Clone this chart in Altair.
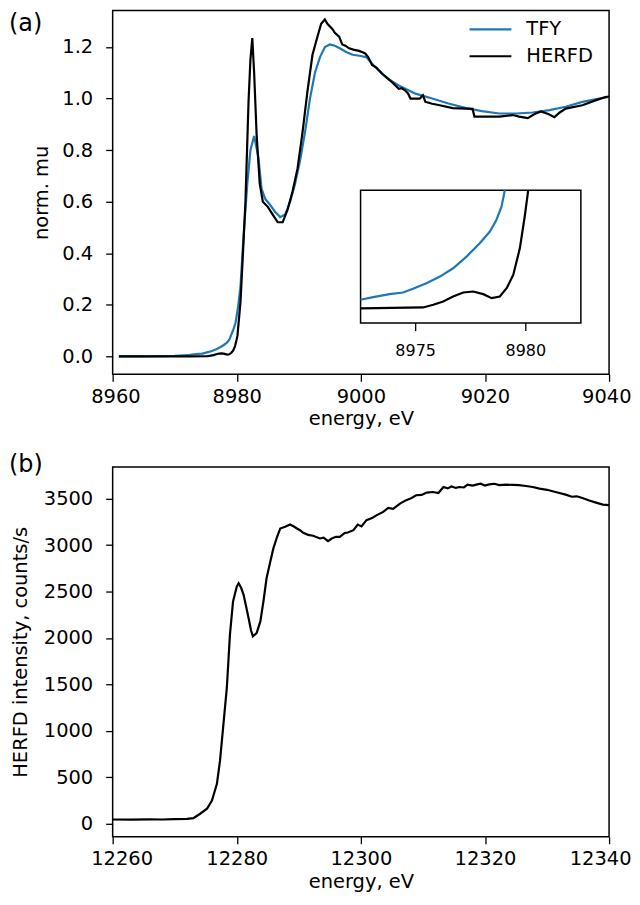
import altair as alt
import pandas as pd

# ---------------- panel (a): Fe K-edge, normalized ----------------
tfy_energy = [8961.0, 8965.0, 8968.0, 8970.0, 8971.5, 8972.5, 8973.07, 8973.82, 8974.43, 8974.88,
              8975.49, 8976.1, 8976.7, 8977.31, 8977.91, 8978.37, 8978.67, 8978.9, 8979.05, 8979.4,
              8979.8, 8980.2, 8980.6, 8981.1, 8981.7, 8982.2, 8982.8, 8983.5, 8984.0, 8984.6,
              8985.3, 8986.2, 8987.0, 8987.8, 8988.6, 8989.4, 8990.2, 8991.0, 8991.8, 8992.6,
              8993.4, 8994.2, 8995.0, 8995.8, 8996.6, 8997.7, 8998.7, 9000.0, 9000.9, 9002.0,
              9003.4, 9004.8, 9006.1, 9008.8, 9011.5, 9014.1, 9016.8, 9019.5, 9022.3, 9025.0,
              9027.7, 9030.4, 9033.0, 9035.7, 9038.4, 9040.0]
tfy_mu = [0.0, 0.0, 0.001, 0.002, 0.004, 0.0058, 0.0076, 0.0096, 0.0107, 0.0132,
          0.017, 0.0215, 0.0271, 0.035, 0.044, 0.052, 0.060, 0.069, 0.080, 0.10,
          0.13, 0.19, 0.27, 0.47, 0.67, 0.80, 0.855, 0.77, 0.65, 0.61,
          0.59, 0.56, 0.54, 0.55, 0.60, 0.67, 0.76, 0.87, 1.00, 1.10,
          1.16, 1.20, 1.21, 1.205, 1.195, 1.18, 1.17, 1.165, 1.16, 1.13,
          1.097, 1.07, 1.051, 1.019, 1.0, 0.981, 0.964, 0.951, 0.942, 0.942,
          0.946, 0.955, 0.968, 0.987, 1.0, 1.006]

herfd_energy = [8961.0, 8965.0, 8970.0, 8972.5, 8975.34, 8975.8, 8976.25, 8976.7, 8977.16, 8977.61,
                8978.07, 8978.45, 8978.82, 8979.13, 8979.43, 8979.73, 8979.96, 8980.11, 8980.6, 8981.0,
                8981.4, 8981.9, 8982.2, 8982.5, 8982.8, 8983.2, 8983.7, 8984.2, 8985.0, 8985.8,
                8986.6, 8987.4, 8988.2, 8989.0, 8989.8, 8990.6, 8991.4, 8992.2, 8993.0, 8993.6,
                8994.2, 8994.6, 8995.4, 8995.8, 8996.5, 8997.0, 8997.5, 8998.1, 8998.8, 8999.7,
                9000.3, 9000.7, 9001.2, 9001.8, 9002.5, 9003.4, 9004.2, 9005.0, 9006.1, 9006.6,
                9007.1, 9007.6, 9008.0, 9009.5, 9010.0, 9010.4, 9011.5, 9012.7, 9014.8, 9017.0,
                9018.0, 9018.3, 9020.0, 9022.3, 9024.5, 9025.5, 9026.9, 9028.0, 9029.0, 9030.2,
                9031.2, 9032.0, 9033.0, 9035.7, 9037.8, 9039.4, 9040.0]
herfd_mu = [0.0, 0.0, 0.0, 0.0, 0.0006, 0.0024, 0.0046, 0.008, 0.0107, 0.0114,
            0.0096, 0.0069, 0.008, 0.0136, 0.0226, 0.0406, 0.063, 0.080, 0.21, 0.40,
            0.60, 0.99, 1.15, 1.235, 1.10, 0.86, 0.67, 0.60, 0.58, 0.55,
            0.52, 0.52, 0.57, 0.64, 0.73, 0.87, 1.03, 1.17, 1.24, 1.29,
            1.307, 1.29, 1.27, 1.255, 1.24, 1.21, 1.205, 1.195, 1.19, 1.185,
            1.18, 1.175, 1.16, 1.13, 1.12, 1.097, 1.08, 1.064, 1.038, 1.04,
            1.032, 1.02, 1.0, 1.0, 1.013, 0.987, 0.98, 0.974, 0.963, 0.961,
            0.96, 0.93, 0.93, 0.93, 0.936, 0.93, 0.924, 0.94, 0.95, 0.94,
            0.928, 0.945, 0.961, 0.974, 0.993, 1.006, 1.008]

series_names = ["TFY", "HERFD"]
series_colors = ["#1f77b4", "#000000"]

top_x_ticks = [8960, 8980, 9000, 9020, 9040]
top_y_ticks = [0.0, 0.2, 0.4, 0.6, 0.8, 1.0, 1.2]
inset_x_ticks = [8975, 8980]
inset_x_labels = ["8975", "8980"]

# ---------------- panel (b): HERFD intensity ----------------
b_energy = [12260, 12263, 12266, 12268, 12270, 12272, 12273, 12274.1, 12275.2, 12276.0,
            12276.8, 12277.3, 12277.8, 12278.4, 12278.9, 12279.4, 12280.0, 12280.3, 12280.7, 12281.1,
            12281.5, 12281.9, 12282.3, 12282.6, 12283.2, 12283.8, 12284.3, 12284.8, 12285.4, 12285.9,
            12286.5, 12287.0, 12287.8, 12288.6, 12289.2, 12289.7, 12290.2, 12290.7, 12291.5, 12292.3,
            12293.4, 12294.0, 12294.7, 12295.3, 12296.0, 12296.6, 12297.4, 12297.9, 12298.8, 12299.5,
            12300.1, 12300.9, 12301.8, 12302.5, 12303.6, 12304.4, 12305.2, 12306.3, 12307.2, 12308.0,
            12308.9, 12309.8, 12310.6, 12311.6, 12312.5, 12313.3, 12314.0, 12314.6, 12315.3, 12315.9,
            12316.6, 12317.2, 12318.0, 12318.6, 12319.3, 12320.0, 12320.7, 12321.5, 12322.3, 12323.4,
            12324.5, 12325.5, 12326.6, 12327.7, 12328.8, 12330.0, 12330.9, 12332.0, 12333.0, 12334.0,
            12334.8, 12335.7, 12336.8, 12337.9, 12339.0, 12340.0]
b_counts = [45, 44, 47, 45, 48, 52, 60, 107, 161, 250,
            429, 678, 1035, 1464, 2036, 2393, 2553, 2589, 2540, 2464,
            2340, 2214, 2080, 2018, 2052, 2178, 2393, 2642, 2821, 2964,
            3089, 3178, 3196, 3221, 3200, 3178, 3160, 3132, 3110, 3100,
            3071, 3080, 3043, 3070, 3089, 3089, 3130, 3135, 3160, 3220,
            3200, 3268, 3290, 3320, 3357, 3400, 3390, 3446, 3480, 3500,
            3536, 3540, 3565, 3571, 3560, 3625, 3610, 3630, 3615, 3625,
            3620, 3650, 3640, 3650, 3660, 3640, 3653, 3660, 3645, 3650,
            3648, 3645, 3636, 3625, 3607, 3595, 3579, 3560, 3543, 3520,
            3525, 3507, 3480, 3457, 3435, 3429]

bot_x_ticks = [12260, 12280, 12300, 12320, 12340]
bot_y_ticks = [0, 500, 1000, 1500, 2000, 2500, 3000, 3500]

FONT = "DejaVu Sans"
FS = 19.5
W = 498
H_TOP = 365
H_BOT = 371

df_tfy = pd.DataFrame({"energy": tfy_energy, "mu": tfy_mu, "series": "TFY"})
df_herfd = pd.DataFrame({"energy": herfd_energy, "mu": herfd_mu, "series": "HERFD"})

color_scale = alt.Scale(domain=series_names, range=series_colors)
x_top = alt.Scale(domain=[8960, 9040], nice=False, zero=False)
y_top = alt.Scale(domain=[-0.0696, 1.342], nice=False, zero=False)

x_axis_top = alt.Axis(values=top_x_ticks, format="d", title="energy, eV",
                      labelFlush=True, labelFlushOffset=22)
y_axis_top = alt.Axis(values=top_y_ticks, format=".1f", title="norm. mu", titlePadding=10,
                      labelPadding=13)

def main_line(df):
    return alt.Chart(df).mark_line(strokeWidth=2.2, clip=True).encode(
        x=alt.X("energy:Q", scale=x_top, axis=x_axis_top),
        y=alt.Y("mu:Q", scale=y_top, axis=y_axis_top),
        color=alt.Color("series:N", scale=color_scale, legend=None),
    )

label_a = alt.Chart(pd.DataFrame({"t": ["(a)"]})).mark_text(
    font=FONT, fontSize=24, align="left", baseline="middle", color="black"
).encode(text="t:N", x=alt.value(-104), y=alt.value(14))

main_top = alt.layer(main_line(df_tfy), main_line(df_herfd), label_a)

# legend (drawn in its own layer: point scale for rows)
df_leg = pd.DataFrame({"series": series_names})
leg_y = alt.Y("series:N", scale=alt.Scale(type="point", domain=series_names, range=[19, 46], padding=0),
              axis=None)
leg_rule = alt.Chart(df_leg).mark_rule(strokeWidth=2.2).encode(
    y=leg_y, x=alt.value(358), x2=alt.value(400),
    color=alt.Color("series:N", scale=color_scale, legend=None),
)
leg_text = alt.Chart(df_leg).mark_text(font=FONT, fontSize=FS, align="left", baseline="middle",
                                       color="black").encode(
    y=leg_y, x=alt.value(415), text="series:N",
)
legend = alt.layer(leg_rule, leg_text)

# inset
ix_dom = [8972.5, 8982.5]
iy_dom = [-0.01, 0.08]
ix = alt.Scale(domain=ix_dom, range=[248.7, 469.7], nice=False, zero=False)
iy = alt.Scale(domain=iy_dom, range=[313.7, 180.3], nice=False, zero=False)

frame = alt.Chart(pd.DataFrame({"x": [ix_dom[0]], "x2": [ix_dom[1]],
                                "y": [iy_dom[0]], "y2": [iy_dom[1]]})).mark_rect(
    fill="white", stroke="black", strokeWidth=1.5
).encode(
    x=alt.X("x:Q", scale=ix, axis=None), x2="x2:Q",
    y=alt.Y("y:Q", scale=iy, axis=None), y2="y2:Q",
)

def inset_line(df, color):
    return alt.Chart(df).transform_filter(
        (alt.datum.energy >= ix_dom[0]) & (alt.datum.energy <= ix_dom[1]) & (alt.datum.mu <= iy_dom[1])
    ).mark_line(strokeWidth=2.2, color=color).encode(
        x=alt.X("energy:Q", scale=ix, axis=None),
        y=alt.Y("mu:Q", scale=iy, axis=None),
    )

df_itick = pd.DataFrame({"t": inset_x_ticks, "lab": inset_x_labels, "y": iy_dom[0]})
itick = alt.Chart(df_itick).mark_rule(color="black", strokeWidth=1.3, y2Offset=8).encode(
    x=alt.X("t:Q", scale=ix, axis=None),
    y=alt.Y("y:Q", scale=iy, axis=None), y2="y:Q",
)
ilab = alt.Chart(df_itick).mark_text(font=FONT, fontSize=16, baseline="top", dy=20, color="black").encode(
    x=alt.X("t:Q", scale=ix, axis=None),
    y=alt.Y("y:Q", scale=iy, axis=None),
    text="lab:N",
)

inset = alt.layer(frame, inset_line(df_tfy, series_colors[0]), inset_line(df_herfd, series_colors[1]),
                  itick, ilab)

top = alt.layer(main_top, inset, legend).resolve_scale(x="independent", y="independent").properties(
    width=W, height=H_TOP)

# bottom panel
df_b = pd.DataFrame({"energy": b_energy, "counts": b_counts})
bot_line = alt.Chart(df_b).mark_line(strokeWidth=2.2, color="black").encode(
    x=alt.X("energy:Q", scale=alt.Scale(domain=[12260, 12340], nice=False, zero=False),
            axis=alt.Axis(values=bot_x_ticks, format="d", title="energy, eV",
                          labelFlush=True, labelFlushOffset=22)),
    y=alt.Y("counts:Q", scale=alt.Scale(domain=[-141, 3841], nice=False, zero=False),
            axis=alt.Axis(values=bot_y_ticks, format="d", title="HERFD intensity, counts/s",
                          titlePadding=13, labelPadding=13)),
)
label_b = alt.Chart(pd.DataFrame({"t": ["(b)"]})).mark_text(
    font=FONT, fontSize=24, align="left", baseline="middle", color="black"
).encode(text="t:N", x=alt.value(-104), y=alt.value(-2))

bottom = alt.layer(bot_line, label_b).properties(width=W, height=H_BOT)

chart = alt.vconcat(top, bottom, spacing=23).properties(
    padding={"left": 0, "top": 0, "right": 0, "bottom": 0}
).configure_view(
    stroke="black", strokeWidth=1.5
).configure_axis(
    labelFont=FONT, titleFont=FONT, labelFontSize=FS, titleFontSize=FS,
    titleFontWeight="normal", labelColor="black", titleColor="black",
    tickColor="black", tickWidth=1.3, tickSize=7, labelPadding=6,
    domain=False, grid=False, labelFlush=False
)

chart.save("out.html", embed_options={"renderer": "svg", "actions": False})
